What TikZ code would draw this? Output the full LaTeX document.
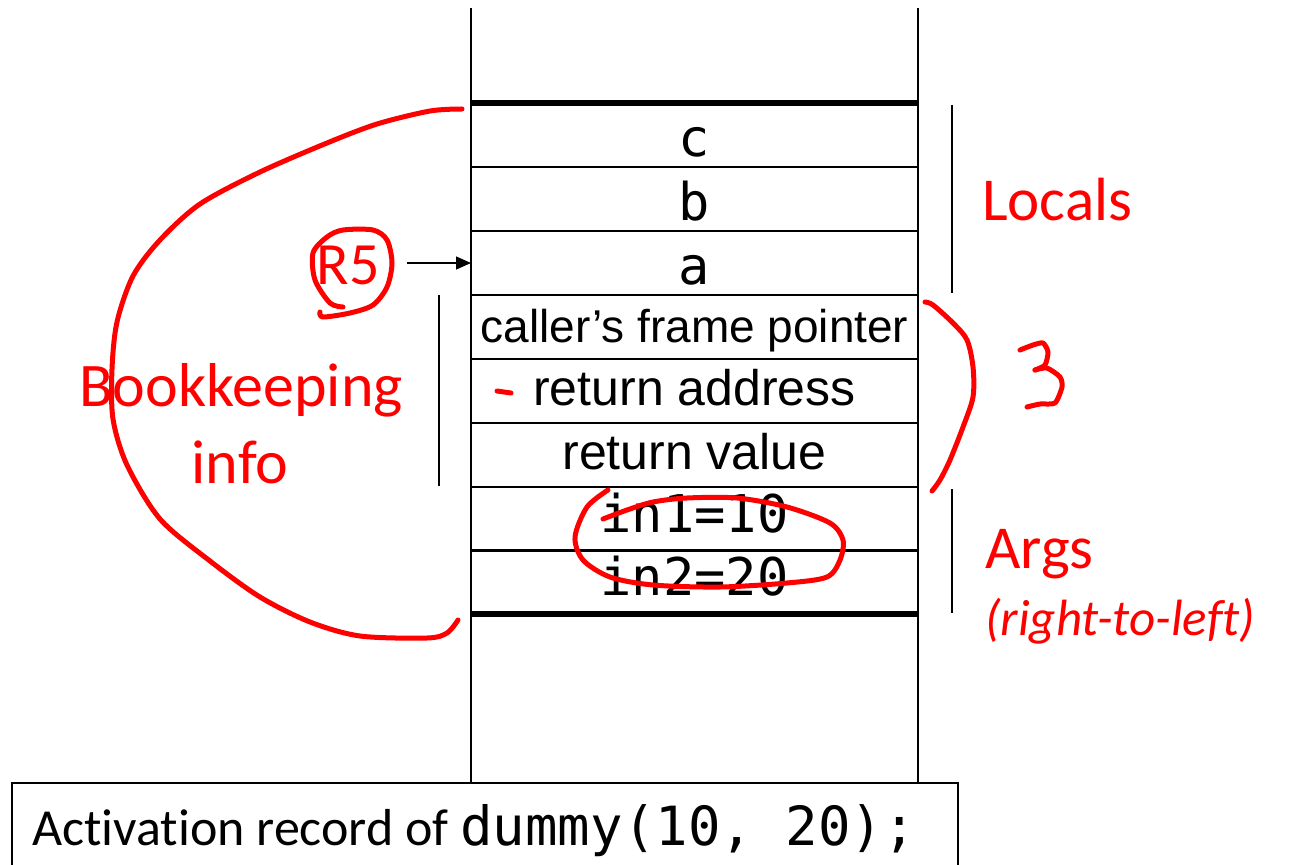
\documentclass[tikz,border=0pt]{standalone}
\usepackage{fontspec}
\usetikzlibrary{arrows.meta}
\newfontfamily\calib[Ligatures={NoCommon}]{Carlito}
\newfontfamily\arialf{Liberation Sans}
\newfontfamily\monof{DejaVu Sans Mono}
\newcommand{\fsz}[1]{\fontsize{#1}{#1}\selectfont}
\definecolor{ink}{RGB}{255,0,0}
\begin{document}
\begin{tikzpicture}[x=1pt,y=-1pt,
  cell/.style={draw, line width=2pt, minimum width=447pt, minimum height=64pt,
    inner sep=0pt, outer sep=0pt, text depth=0pt},
  monocell/.style={cell, font=\monof\fsz{52}, text height=42pt},
  argcell/.style={cell, font=\monof\fsz{52}, text height=26pt},
  sanscell/.style={cell, font=\arialf\fsz{50}, text height=28pt},
  thin/.style={line width=1.4pt},
  pen/.style={draw=ink, line width=5pt, line cap=round, line join=round},
  redtxt/.style={text=ink, inner sep=0pt, font=\calib\fsz{61}}]
\useasboundingbox (0,0) rectangle (1289,864);
\clip (0,0) rectangle (1289,864);

% stack walls
\draw[line width=2pt] (471,8) -- (471,783);
\draw[line width=2pt] (918,8) -- (918,783);

% frame slots
\node[monocell] (cellC) at (694.5,135) {c};
\node[monocell] (cellB) at (694.5,199) {b};
\node[monocell] (cellA) at (694.5,263) {a};
\node[sanscell, font=\arialf\fsz{46}, text height=30pt] (cellFP) at (694.5,327) {caller’s frame pointer};
\node[sanscell] (cellRA) at (694.5,391) {return address};
\node[sanscell] (cellRV) at (694.5,455) {return value};
\node[argcell] (cellIn1) at (694.5,519) {in1=10};
\node[argcell] (cellIn2) at (694.5,582) {in2=20};

% frame boundaries
\draw[line width=6pt] (cellC.north west) -- (cellC.north east);
\draw[line width=6pt] (cellIn2.south west) -- (cellIn2.south east);

% brackets
\draw[thin] (952,105) -- (952,293);
\draw[thin] (952,489) -- (952,613);
\draw[thin] (439,295) -- (439,486);

% labels
\node[redtxt, anchor=base west] (locals) at (982,220) {Locals};
\node[redtxt, anchor=base west] (args) at (985,568) {Args};
\node[redtxt, anchor=base west, font=\calib\itshape\fsz{51}] (rtl) at (985,635) {(right-to-left)};
\node[redtxt, anchor=base, font=\calib\fsz{62}] (bk1) at (241,406) {Bookkeeping};
\node[redtxt, anchor=base, font=\calib\fsz{62}] (bk2) at (240,483) {info};
\node[redtxt, anchor=base, font=\calib\fsz{60}] (r5) at (348,284) {R5};

% frame pointer arrow
\coordinate (r5tail) at (407,263);
\draw[thin, -{Triangle[length=15pt,width=13pt]}] (r5tail) -- (cellA.west);

% caption
\draw[line width=2pt] (12,783) rectangle (958,870);
\node[anchor=base west, inner sep=0pt] (caption) at (32,845)
  {\calib\fsz{52}Activation record of {\monof\fsz{54}dummy(10, 20);}};

% hand-drawn marks
\draw[pen] plot[smooth] coordinates {(462,109) (430,111) (377,124) (327,143) (260,172) (200,204)
  (160,240) (133,276) (117,322) (112,369) (113,419) (127,465) (160,519) (210,561) (260,597)
  (310,622) (360,636) (427,638) (447,633) (458,620)};
\draw[pen] plot[smooth] coordinates {(343,307) (330,303) (315,280) (313,253) (327,237) (343,230)
  (373,230) (387,240) (392,263) (387,287) (373,305) (350,313) (323,317) (320,312)};
\draw[pen] (497,391) -- (511,393);
\draw[pen] plot[smooth] coordinates {(925,302) (933,305) (953,323) (967,340) (973,367) (973,397)
  (963,427) (950,460) (940,480) (932,491)};
\draw[pen] plot[smooth, tension=0.4] coordinates {(1020,350) (1033,345) (1043,343) (1048,352)
  (1045,365) (1035,370)};
\draw[pen] plot[smooth, tension=0.4] coordinates {(1035,370) (1047,368) (1060,377) (1062,387)
  (1055,403) (1040,404) (1027,407)};
\draw[pen] plot[smooth] coordinates {(608,490) (587,507) (575,537) (583,560) (610,577) (653,585)
  (720,587) (787,583) (827,577) (840,560) (843,540) (830,523) (787,507) (737,498) (687,498)
  (653,502) (627,510) (603,519)};
\end{tikzpicture}
\end{document}
